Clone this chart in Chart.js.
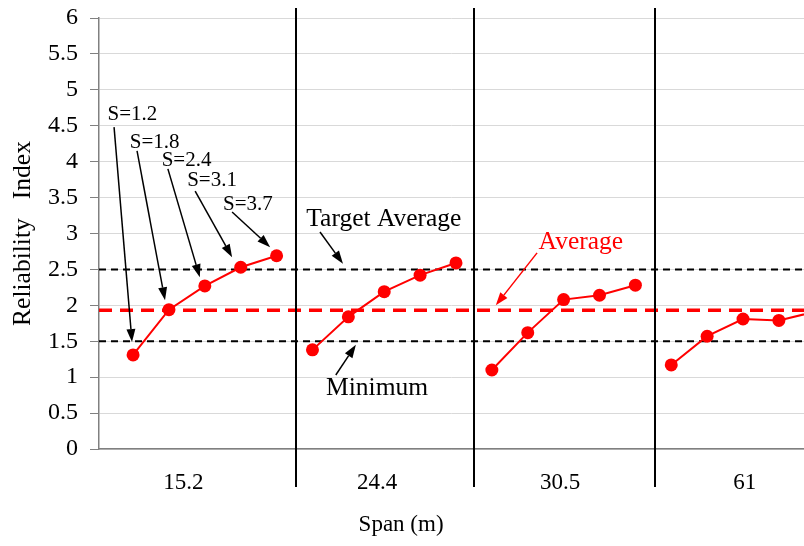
<!DOCTYPE html>
<html>
<head>
<meta charset="utf-8">
<script src="https://cdn.jsdelivr.net/npm/chart.js@4.4.0/dist/chart.umd.min.js"></script>
<style>
	html, body {margin: 0; padding: 0; background: #fff;}
	canvas {display: block;}
</style>
</head>
<body>
<canvas id="myChart" width="804" height="546"></canvas>
<script>
// span groups (m) and girder spacing S (m)
var spans = ['15.2', '24.4', '30.5', '61'];
var spacings = ['1.2', '1.8', '2.4', '3.1', '3.7'];

// reliability index, one list per span, in order of spacing
var beta152 = [1.31, 1.94, 2.27, 2.53, 2.69];
var beta244 = [1.38, 1.84, 2.19, 2.42, 2.59];
var beta305 = [1.10, 1.62, 2.08, 2.14, 2.28];
var beta61  = [1.17, 1.57, 1.81, 1.79, 1.91];

var targetAverage = 2.5;
var minimum = 1.5;
var average = 1.93;

var yTicks = [0, 0.5, 1, 1.5, 2, 2.5, 3, 3.5, 4, 4.5, 5, 5.5, 6];

// layout (x in point index units)
var xMin = -0.95, xMax = 18.7;
var spanLabelAt = [1.4, 6.8, 11.9, 17.05];
var separatorsAt = [4.55, 9.5, 14.55];

function flat(v) { return [{x: xMin, y: v}, {x: xMax, y: v}]; }

// notes: text at [x,y], arrow from -> to (data units)
var notes = [
	{text: 'S=' + spacings[0], at: [-0.02, 4.65], from: [-0.53, 4.48], to: [-0.03, 1.49], size: 21, color: '#000'},
	{text: 'S=' + spacings[1], at: [0.60, 4.27], from: [0.11, 4.15], to: [0.89, 2.07], size: 21, color: '#000'},
	{text: 'S=' + spacings[2], at: [1.49, 4.02], from: [0.97, 3.90], to: [1.86, 2.39], size: 21, color: '#000'},
	{text: 'S=' + spacings[3], at: [2.20, 3.74], from: [1.73, 3.59], to: [2.76, 2.67], size: 21, color: '#000'},
	{text: 'S=' + spacings[4], at: [3.20, 3.41], from: [2.76, 3.30], to: [3.82, 2.81], size: 21, color: '#000'},
	{text: 'Target Average', at: [6.99, 3.20], from: [5.21, 3.02], to: [5.85, 2.58], size: 25.5, color: '#000'},
	{text: 'Minimum', at: [6.80, 0.84], from: [5.65, 1.03], to: [6.21, 1.45], size: 25.5, color: '#000'},
	{text: 'Average', at: [12.48, 2.88], from: [11.26, 2.73], to: [10.11, 2.00], size: 25.5, color: '#ff0000'}
];

var serif = '"Liberation Serif", "Times New Roman", serif';

function arrow(ctx, x1, y1, x2, y2) {
	var a = Math.atan2(y2 - y1, x2 - x1);
	var len = 13, w = 4.5;
	var bx = x2 - len * Math.cos(a), by = y2 - len * Math.sin(a);
	ctx.lineWidth = 1.5;
	ctx.beginPath();
	ctx.moveTo(x1, y1);
	ctx.lineTo(bx, by);
	ctx.stroke();
	ctx.beginPath();
	ctx.moveTo(x2, y2);
	ctx.lineTo(bx + w * Math.sin(a), by - w * Math.cos(a));
	ctx.lineTo(bx - w * Math.sin(a), by + w * Math.cos(a));
	ctx.closePath();
	ctx.fill();
}

var decor = {
	id: 'decor',
	afterDatasetsDraw: function (chart) {
		var ctx = chart.ctx, xs = chart.scales.x, ys = chart.scales.y, area = chart.chartArea;
		ctx.save();
		// group dividers
		ctx.strokeStyle = '#000';
		ctx.lineWidth = 2;
		separatorsAt.forEach(function (k) {
			var px = Math.round(xs.getPixelForValue(k));
			ctx.beginPath();
			ctx.moveTo(px, area.top - 10);
			ctx.lineTo(px, area.bottom + 38);
			ctx.stroke();
		});
		// notes with arrows
		ctx.textAlign = 'center';
		ctx.textBaseline = 'middle';
		notes.forEach(function (n) {
			ctx.fillStyle = n.color;
			ctx.strokeStyle = n.color;
			ctx.font = n.size + 'px ' + serif;
			ctx.fillText(n.text, xs.getPixelForValue(n.at[0]), ys.getPixelForValue(n.at[1]));
			arrow(ctx, xs.getPixelForValue(n.from[0]), ys.getPixelForValue(n.from[1]),
				xs.getPixelForValue(n.to[0]), ys.getPixelForValue(n.to[1]));
		});
		// span labels and x axis title
		ctx.fillStyle = '#000';
		ctx.font = '23px ' + serif;
		spans.forEach(function (s, i) {
			ctx.fillText(s, xs.getPixelForValue(spanLabelAt[i]), area.bottom + 34);
		});
		ctx.fillText('Span (m)', xs.getPixelForValue(7.47), area.bottom + 76);
		ctx.restore();
	}
};

// one line per span, points numbered along the x axis
function group(values, g) {
	return {
		label: spans[g],
		data: values.map(function (v, i) { return {x: g * 5 + i, y: v}; }),
		borderColor: '#ff0000',
		backgroundColor: '#ff0000',
		borderWidth: 2,
		pointRadius: 6.5,
		pointBorderWidth: 0
	};
}

var ctx = document.getElementById('myChart').getContext('2d');
var chart = new Chart(ctx, {
	type: 'line',
	data: {
		datasets: [
			group(beta152, 0),
			group(beta244, 1),
			group(beta305, 2),
			group(beta61, 3),
			{
				label: 'Average',
				data: flat(average),
				borderColor: '#ff0000',
				borderWidth: 3.5,
				borderDash: [13, 8],
				pointRadius: 0
			},
			{
				label: 'Target Average',
				data: flat(targetAverage),
				borderColor: '#000',
				borderWidth: 2,
				borderDash: [7, 5],
				pointRadius: 0
			},
			{
				label: 'Minimum',
				data: flat(minimum),
				borderColor: '#000',
				borderWidth: 2,
				borderDash: [7, 5],
				pointRadius: 0
			}
		]
	},
	options: {
		responsive: false,
		animation: false,
		layout: {autoPadding: false, padding: {top: 18, right: 0, left: 0, bottom: 0}},
		plugins: {legend: {display: false}, tooltip: {enabled: false}},
		scales: {
			x: {
				type: 'linear',
				min: xMin,
				max: xMax,
				afterFit: function (scale) {
					scale.height = 97;
					scale.paddingLeft = 0;
					scale.paddingRight = 0;
				},
				grid: {display: false, drawTicks: false},
				border: {display: true, color: '#808080', width: 1.5},
				ticks: {display: false}
			},
			y: {
				min: 0,
				max: 6,
				afterBuildTicks: function (scale) {
					scale.ticks = yTicks.map(function (v) { return {value: v}; });
				},
				afterFit: function (scale) {
					scale.width = 99;
					scale.paddingTop = 0;
					scale.paddingBottom = 0;
				},
				grid: {color: '#d9d9d9', lineWidth: 1, drawTicks: true, tickLength: 9, tickColor: '#808080'},
				border: {display: true, color: '#808080', width: 1.5},
				ticks: {
					padding: 12,
					color: '#000',
					font: {family: serif, size: 24},
					callback: function (v) { return String(v); }
				},
				title: {
					display: true,
					text: 'Reliability   Index',
					color: '#000',
					font: {family: serif, size: 25.5},
					padding: {top: 8}
				}
			}
		}
	},
	plugins: [decor]
});
</script>
</body>
</html>
